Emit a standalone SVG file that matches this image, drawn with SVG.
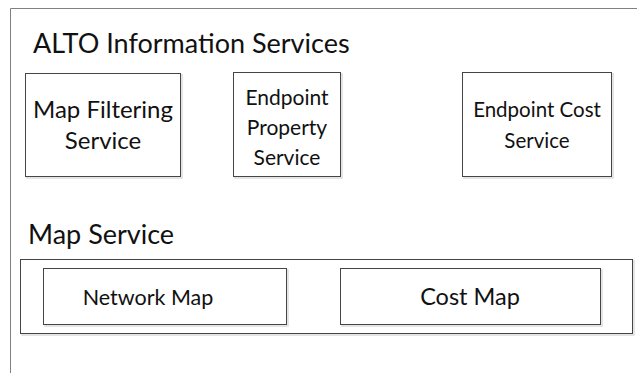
<svg xmlns="http://www.w3.org/2000/svg" width="637" height="373" viewBox="0 0 637 373">
  <style>
    .box { fill: #ffffff; stroke: #454545; stroke-width: 1; }
    .shadow { fill: none; stroke: #dcdcdc; stroke-width: 1.5; }
    .title { font-family: Lato, "Liberation Sans", sans-serif; font-size: 27px; fill: #111111; }
    .label { font-family: Lato, "Liberation Sans", sans-serif; fill: #111111; text-anchor: middle; }
  </style>
  <rect width="637" height="373" fill="#ffffff"/>

  <!-- outer container: ALTO Information Services -->
  <g id="alto-information-services">
    <polyline points="10.5,373 10.5,8.5 637,8.5" fill="none" stroke="#808080" stroke-width="1"/>
    <text class="title" x="33" y="53">ALTO Information Services</text>
  </g>

  <g id="map-filtering-service">
    <rect class="shadow" x="27" y="75" width="155" height="103"/>
    <rect class="box" x="25.5" y="73.5" width="155" height="103"/>
    <text class="label" x="103" y="118" font-size="24">Map Filtering</text>
    <text class="label" x="103" y="149" font-size="24">Service</text>
  </g>

  <g id="endpoint-property-service">
    <rect class="shadow" x="235" y="74" width="107" height="104"/>
    <rect class="box" x="233.5" y="72.5" width="107" height="104"/>
    <text class="label" x="287" y="105" font-size="21">Endpoint</text>
    <text class="label" x="287" y="135" font-size="21">Property</text>
    <text class="label" x="287" y="165" font-size="21">Service</text>
  </g>

  <g id="endpoint-cost-service">
    <rect class="shadow" x="464" y="74" width="149" height="104"/>
    <rect class="box" x="462.5" y="72.5" width="149" height="104"/>
    <text class="label" x="537" y="117" font-size="20.5">Endpoint Cost</text>
    <text class="label" x="537" y="148" font-size="20.5">Service</text>
  </g>

  <g id="map-service">
    <text class="title" x="28" y="244">Map Service</text>
    <rect class="shadow" x="22" y="261" width="612" height="74"/>
    <rect class="box" x="20.5" y="259.5" width="612" height="74"/>
  </g>

  <g id="network-map">
    <rect class="shadow" x="45" y="270" width="243" height="56"/>
    <rect class="box" x="43.5" y="268.5" width="243" height="56"/>
    <text class="label" x="148" y="305" font-size="21.5">Network Map</text>
  </g>

  <g id="cost-map">
    <rect class="shadow" x="342" y="270" width="260" height="56"/>
    <rect class="box" x="340.5" y="268.5" width="260" height="56"/>
    <text class="label" x="470" y="305" font-size="23.5">Cost Map</text>
  </g>

  <g id="connectors"/>
</svg>
